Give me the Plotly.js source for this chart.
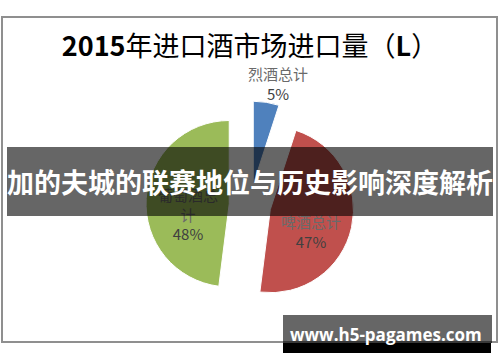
<!DOCTYPE html>
<html>
<head>
<meta charset="utf-8">
<script src="https://cdn.plot.ly/plotly-3.0.1.min.js"></script>
<style>html,body{margin:0;padding:0;background:#fff;}#chart{width:500px;height:362px;}</style>
</head>
<body>
<div id="chart"></div>
<script>
const categories = ['烈酒总计', '啤酒总计', '葡萄酒总计'];
const labelLines = ['烈酒总计', '啤酒总计', '葡萄酒总<br>计'];
const values = [5, 47, 48];
const colors = ['#4f81bd', '#c0504d', '#9bbb59'];
const pulls = [0.25, 0.25, 0.25];
const titleText = '<b>2015</b>年进口酒市场进口量（<b>L</b>）';
const bannerText = '加的夫城的联赛地位与历史影响深度解析';
const watermarkText = 'www.h5-pagames.com';

const W = 500, H = 362;
const px = x => x / W;
const py = y => 1 - y / H;
const FONT = '"Noto Sans CJK SC", "Open Sans", sans-serif';

// pie domain (px)
const dom = {x0: 146, x1: 354, y0: 101, y1: 309};

const trace = {
  type: 'pie',
  labels: categories,
  values: values,
  sort: false,
  direction: 'clockwise',
  rotation: 0,
  pull: pulls,
  marker: {colors: colors, line: {color: '#ffffff', width: 1}},
  textinfo: 'none',
  hoverinfo: 'none',
  showlegend: false,
  domain: {x: [px(dom.x0), px(dom.x1)], y: [py(dom.y1), py(dom.y0)]}
};

// data labels placed from the slice geometry
const total = values.reduce((a, b) => a + b, 0);
const cx = (dom.x0 + dom.x1) / 2, cy = (dom.y0 + dom.y1) / 2;
const rad = (dom.x1 - dom.x0) / 2 / (1 + Math.max(...pulls));
let cum = 0;
const labelAnns = values.map((v, i) => {
  const mid = 2 * Math.PI * (cum + v / 2) / total;
  cum += v;
  const sx = Math.sin(mid), sy = -Math.cos(mid);
  const txt = '<span style="color:#6a6a6a">' + labelLines[i] + '</span><br><span style="color:#404040">' +
              Math.round(100 * v / total) + '%</span>';
  const base = {xref: 'paper', yref: 'paper', showarrow: false, text: txt,
                font: {family: FONT, size: 15, color: '#404040'}, xanchor: 'center'};
  if (v / total < 0.1) {
    // outside label above the small slice
    const ox = cx + (1 + pulls[i]) * rad * sx, oy = cy + (1 + pulls[i]) * rad * sy;
    return Object.assign(base, {x: px(ox), y: py(oy), yanchor: 'bottom', xshift: 12, yshift: -4});
  }
  const lx = cx + (pulls[i] + 0.5) * rad * sx, ly = cy + (pulls[i] + 0.5) * rad * sy;
  return Object.assign(base, {x: px(lx), y: py(ly), yanchor: 'middle', yshift: -13});
});

const layout = {
  width: W, height: H,
  margin: {l: 0, r: 0, t: 0, b: 0},
  paper_bgcolor: '#ffffff',
  showlegend: false,
  title: {
    text: titleText,
    x: px(250), xanchor: 'center', xref: 'paper',
    y: py(47), yanchor: 'middle', yref: 'paper',
    font: {family: FONT, size: 27, color: '#000000'}
  },
  shapes: [
    {type: 'rect', xref: 'paper', yref: 'paper', x0: px(2), x1: px(497), y0: py(17), y1: py(342),
     line: {color: '#8f8f8f', width: 2}, fillcolor: 'rgba(0,0,0,0)', layer: 'below'},
    {type: 'rect', xref: 'paper', yref: 'paper', x0: px(283), x1: px(492), y0: py(315), y1: py(343),
     line: {width: 0}, fillcolor: 'rgba(0,0,0,0.6)', layer: 'above'},
    {type: 'rect', xref: 'paper', yref: 'paper', x0: px(283), x1: px(491), y0: py(343), y1: py(353),
     line: {width: 0}, fillcolor: '#000000', layer: 'above'}
  ],
  annotations: labelAnns.concat([
    {xref: 'paper', yref: 'paper', x: px(250), y: py(181.5), xanchor: 'center', yanchor: 'middle',
     text: '<b>' + bannerText + '</b>', showarrow: false,
     width: 486, height: 69, borderpad: 0, borderwidth: 0, align: 'center', valign: 'middle',
     bgcolor: 'rgba(0,0,0,0.6)',
     font: {family: '"Noto Sans CJK SC", sans-serif', size: 27, color: '#ffffff'}},
    {xref: 'paper', yref: 'paper', x: px(386), y: py(334), xanchor: 'center', yanchor: 'middle',
     text: '<b>' + watermarkText + '</b>', showarrow: false,
     font: {family: '"Open Sans", "DejaVu Sans", sans-serif', size: 17, color: '#ffffff'}}
  ])
};

Plotly.newPlot('chart', [trace], layout, {displayModeBar: false, staticPlot: true});
</script>
</body>
</html>
